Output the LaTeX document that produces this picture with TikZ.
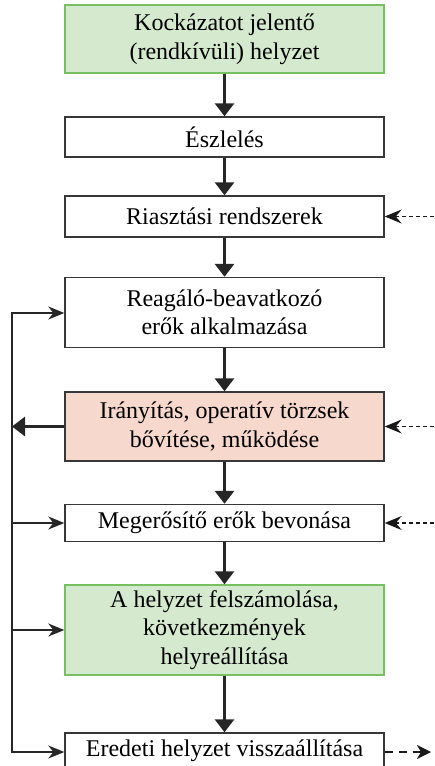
\documentclass[tikz,border=0pt]{standalone}
\usepackage{fontspec}
\setmainfont{Liberation Serif}
\usetikzlibrary{arrows.meta}

\definecolor{stagegreen}{RGB}{213,233,206}
\definecolor{stagegreenline}{RGB}{118,192,98}
\definecolor{stagepink}{RGB}{246,216,204}
\definecolor{framegray}{RGB}{55,55,55}

\begin{document}
\begin{tikzpicture}[x=1pt, y=-1pt,
  stagebox/.style={draw=framegray, line width=1.4pt, fill=white,
    minimum width=319pt, inner sep=0pt, align=center,
    font=\fontsize{24}{28.5}\selectfont},
  greenbox/.style={stagebox, draw=stagegreenline, fill=stagegreen},
  pinkbox/.style={stagebox, fill=stagepink},
  mainflow/.style={draw=black!85, line width=3pt,
    -{Triangle[length=13pt, width=19pt]}},
  sideline/.style={draw=black!85, line width=1.6pt},
  sidearrow/.style={sideline, -{Stealth[length=16pt, width=13pt, inset=5pt]}},
  inputarrow/.style={draw=black!90, line width=1.5pt, dash pattern=on 4pt off 3pt,
    -{Stealth[length=17pt, width=14pt, inset=6pt]}},
  outputarrow/.style={draw=black!90, line width=2.4pt, dash pattern=on 8pt off 6pt,
    -{Stealth[length=14pt, width=14pt, inset=4pt]}}]
  \def\midx{224.5}
  \def\loopx{12}
  \def\rightx{434}

  \useasboundingbox (0,0) rectangle (434,766);

  % stages of the process
  \node[greenbox, minimum height=68pt] (kock) at (\midx,39) {Kockázatot jelentő\\(rendkívüli) helyzet};
  \node[stagebox, minimum height=40pt] (eszl) at (\midx,137) {Észlelés};
  \node[stagebox, minimum height=41pt] (riaszt) at (\midx,216.5) {Riasztási rendszerek};
  \node[stagebox, minimum height=70pt] (reag) at (\midx,312.5) {Reagáló-beavatkozó\\erők alkalmazása};
  \node[pinkbox, minimum height=69pt] (iranyit) at (\midx,426.5) {Irányítás, operatív törzsek\\bővítése, működése};
  \node[stagebox, minimum height=37pt] (megerosit) at (\midx,523) {Megerősítő erők bevonása};
  \node[greenbox, minimum height=90pt] (felszam) at (\midx,630) {A helyzet felszámolása,\\következmények\\helyreállítása};
  \node[stagebox, minimum height=36pt] (eredeti) at (\midx,751) {Eredeti helyzet visszaállítása};

  % main flow
  \foreach \a/\b in {kock/eszl, eszl/riaszt, riaszt/reag, reag/iranyit,
                     iranyit/megerosit, megerosit/felszam, felszam/eredeti}
    \draw[mainflow] (\a.south) -- (\b.north);

  % feedback loop on the left
  \coordinate (loopTop) at (\loopx,313);
  \coordinate (loopBot) at (\loopx,752);
  \draw[sideline, line cap=rect] (loopTop) -- (loopBot);
  \draw[mainflow] (iranyit.west) -- (iranyit.west -| loopTop);
  \draw[sidearrow] (loopTop) -- (loopTop -| reag.west);
  \draw[sidearrow] (megerosit.west -| loopTop) -- (megerosit.west);
  \draw[sidearrow] (felszam.west -| loopTop) -- (felszam.west);
  \draw[sidearrow] (loopBot) -- (loopBot -| eredeti.west);

  % outside inputs and output
  \foreach \n in {riaszt, iranyit, megerosit} {
    \coordinate (in-\n) at (\rightx,0 |- \n.east);
    \draw[inputarrow] (in-\n) -- (\n.east);
  }
  \coordinate (out) at (431,752);
  \draw[outputarrow] (eredeti.east |- out) -- (out);
\end{tikzpicture}
\end{document}
